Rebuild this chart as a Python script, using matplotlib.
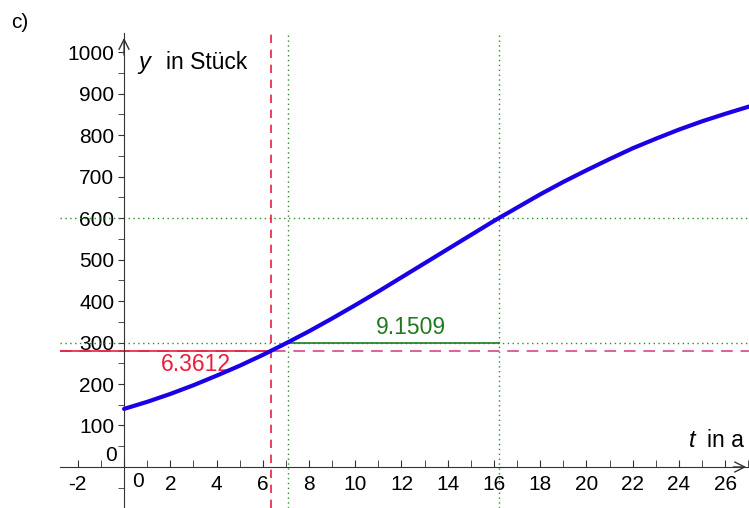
import numpy as np
import matplotlib.pyplot as plt
from matplotlib.ticker import MultipleLocator

plt.rcParams['font.family'] = ['Liberation Sans', 'DejaVu Sans']

# curve values (t in years, y in pieces)
t_vals = [0, 1, 2, 3, 4, 5, 6, 7, 8, 9, 10, 11, 12, 13, 14,
          15, 16, 17, 18, 19, 20, 21, 22, 23, 24, 25, 26, 27, 27.5]
y_vals = [140, 157, 176, 197, 220, 244, 270, 298, 327, 358, 390, 423, 457, 491, 525,
          559, 593, 625, 657, 687, 715, 742, 768, 791, 813, 833, 851, 868, 875]

# marked points
t_double = 6.3612
y_double = 280
t_300 = 7.071
t_600 = 16.222
y_low, y_high = 300, 600
diff_label = '9.1509'
double_label = '6.3612'

xmin, xmax = -2.77, 27.03
ymin, ymax = -98.8, 1045.8

fig = plt.figure(figsize=(7.49, 5.08), dpi=100)
ax = fig.add_axes([60 / 749, 0, 689 / 749, 475 / 508])
ax.set_xlim(xmin, xmax)
ax.set_ylim(ymin, ymax)

red = '#e8203f'
pink = '#e0609a'
green = '#2e8b2e'
dgreen = '#1f7a1f'

# helper lines
ax.axhline(y_high, color=green, ls=(0, (1, 2.5)), lw=1)
ax.axhline(y_low, color=green, ls=(0, (1, 2.5)), lw=1)
ax.axvline(t_300, color=green, ls=(0, (1, 2.5)), lw=1)
ax.axvline(t_600, color=green, ls=(0, (1, 2.5)), lw=1)
ax.axhline(y_double, color=pink, ls=(0, (6, 4)), lw=1.4)
ax.axvline(t_double, color=red, ls=(0, (5, 4)), lw=1.2)
ax.plot([xmin, t_double], [y_double, y_double], color=red, lw=1.2)
ax.plot([t_300, t_600], [y_low, y_low], color=dgreen, lw=1.2)

ax.plot(t_vals, y_vals, color='#1a00e6', lw=3, solid_capstyle='round', zorder=5)

ax.text(3.1, 246, double_label, color=red, fontsize=16.5, ha='center', va='center')
ax.text(12.4, 335, diff_label, color=dgreen, fontsize=16.5, ha='center', va='center')

# axes through origin
for s in ['top', 'right']:
    ax.spines[s].set_visible(False)
ax.spines['left'].set_position(('data', 0))
ax.spines['bottom'].set_position(('data', 0))
ax.spines['left'].set_color('#333333')
ax.spines['bottom'].set_color('#333333')
ax.annotate('', xy=(xmax, 0), xytext=(xmax - 0.8, 0),
            arrowprops=dict(arrowstyle='->', color='#333333', lw=1, mutation_scale=18))
ax.annotate('', xy=(0, ymax - 5), xytext=(0, ymax - 60),
            arrowprops=dict(arrowstyle='->', color='#333333', lw=1, mutation_scale=18))

xt = list(range(-2, 27, 2))
ax.xaxis.set_minor_locator(MultipleLocator(1))
ax.yaxis.set_minor_locator(MultipleLocator(50))
ax.set_xticks(xt)
ax.set_xticklabels([str(v) if v != 0 else '' for v in xt])
yt = list(range(100, 1001, 100))
ax.set_yticks(yt)
ax.set_yticklabels([str(v) for v in yt])
ax.tick_params(axis='x', direction='in', length=5, labelsize=15, pad=6, color='#333333')
ax.tick_params(axis='x', which='minor', direction='in', length=5, color='#333333')
ax.tick_params(axis='y', direction='out', length=4, labelsize=15, pad=3, color='#333333')
ax.tick_params(axis='y', which='minor', direction='out', length=4, color='#333333')
ax.text(0.35, -12, '0', fontsize=15, ha='left', va='top')
ax.text(-0.3, 6, '0', fontsize=15, ha='right', va='bottom')

ax.text(0.6, 975, 'y', fontsize=17, fontstyle='italic', ha='left', va='center')
ax.text(1.8, 975, 'in Stück', fontsize=16.5, ha='left', va='center')
ax.text(24.45, 65, 't', fontsize=17, fontstyle='italic', ha='left', va='center')
ax.text(25.2, 65, 'in a', fontsize=16.5, ha='left', va='center')

fig.text(20 / 749, 1 - 22 / 508, 'c)', fontsize=15, ha='center', va='center')

fig.savefig('out.png', dpi=100)
